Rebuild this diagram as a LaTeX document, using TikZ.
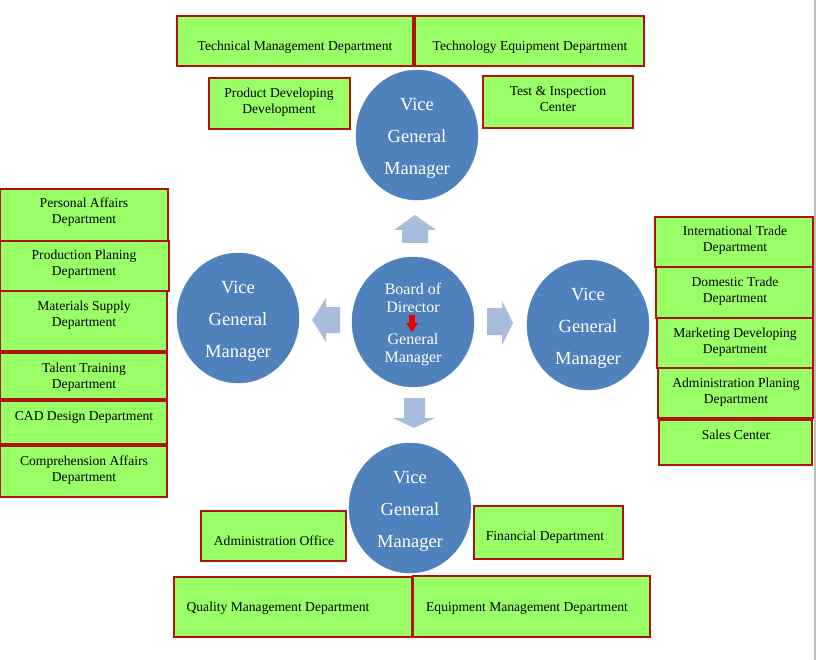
\documentclass[tikz,border=0pt]{standalone}
\usepackage{fontspec}
\setmainfont{Liberation Serif}
\usetikzlibrary{shapes.geometric}
\definecolor{deptgreen}{RGB}{153,255,102}
\definecolor{deptred}{RGB}{175,20,10}
\definecolor{vgmblue}{RGB}{79,129,189}
\definecolor{blockblue}{RGB}{168,188,220}
\definecolor{edgegray}{RGB}{190,190,190}
\tikzset{
  dept/.style={draw=deptred, line width=1.25pt, fill=deptgreen, inner sep=0pt},
  depttext/.style={align=center, inner sep=0pt, yshift=-2pt, font=\fontsize{13.6}{16}\selectfont, text=black},
  vgm/.style={ellipse, fill=vgmblue, draw=vgmblue, inner sep=0pt, minimum width=122pt, minimum height=130pt},
  vgmtext/.style={align=center, inner sep=0pt, yshift=-3pt, text=white, font=\fontsize{18.5}{32}\selectfont},
  boardtext/.style={align=center, inner sep=0pt, yshift=-3pt, text=white, font=\fontsize{16}{18}\selectfont},
  blockarrow/.style={fill=blockblue},
  redarrow/.style={fill=red!90!black}
}
\newcommand{\deptbox}[5]{% name, x1, y1, x2, y2
  \node[dept, minimum width={(#4-#2)*1pt}, minimum height={(#5-#3)*1pt}] (#1) at ({(#2+#4)/2},{(#3+#5)/2}) {};
}
\begin{document}
\begin{tikzpicture}[x=1pt, y=-1pt]
\useasboundingbox (0,0) rectangle (816,660);
\fill[white] (0,0) rectangle (816,660);
\draw[edgegray, line width=1.5pt] (815,0) -- (815,660);

% ---- circles ----
\node[vgm] (vtop) at (417,135) {};
\node[vgm] (vleft) at (238,318) {};
\node[vgm] (vright) at (588,325) {};
\node[vgm] (vbot) at (410,508) {};
\node[vgm] (board) at (413,322) {};
\node[vgmtext] (vtopt) at (vtop.center) {Vice\\General\\Manager};
\node[vgmtext] (vleftt) at (vleft.center) {Vice\\General\\Manager};
\node[vgmtext] (vrightt) at (vright.center) {Vice\\General\\Manager};
\node[vgmtext] (vbott) at (vbot.center) {Vice\\General\\Manager};
\node[boardtext] (boardt) at (board.center) {Board of\\Director\\[14pt]General\\Manager};
\fill[redarrow] (409,315) -- (415,315) -- (415,323) -- (418,323) -- (412,332) -- (406,323) -- (409,323) -- cycle;

% ---- block arrows ----
\fill[blockarrow] (415,215) -- (436,230) -- (428,230) -- (428,243) -- (402,243) -- (402,230) -- (394,230) -- cycle;
\fill[blockarrow] (312,320) -- (326,298) -- (326,307) -- (340,307) -- (340,333) -- (326,333) -- (326,342) -- cycle;
\fill[blockarrow] (513,323) -- (502,301) -- (502,308) -- (487,308) -- (487,335) -- (502,335) -- (502,345) -- cycle;
\fill[blockarrow] (414,428) -- (435,418) -- (425,418) -- (425,398) -- (404,398) -- (404,418) -- (393,418) -- cycle;

% ---- top boxes ----
\deptbox{tmd}{177}{16}{413}{66}
\deptbox{ted}{415}{16}{644}{66}
\deptbox{pdd}{209}{78}{350}{129}
\deptbox{tic}{483}{76}{633}{128}
\node[depttext] (tmdt) at (295,45) {Technical Management Department};
\node[depttext] (tedt) at (530,45) {Technology Equipment Department};
\node[depttext] (pddt) at (279,100) {Product Developing\\Development};
\node[depttext] (tict) at (558,97) {Test \& Inspection\\Center};

% ---- left boxes ----
\deptbox{pa}{0}{189}{168}{241}
\deptbox{pp}{0}{241}{169}{291}
\deptbox{ms}{0}{291}{167}{351}
\deptbox{tt}{0}{353}{167}{399}
\deptbox{cad}{0}{401}{167}{444}
\deptbox{ca}{0}{446}{167}{497}
\node[depttext] (pat) at (84,210) {Personal Affairs\\Department};
\node[depttext] (ppt) at (84,262) {Production Planing\\Department};
\node[depttext] (mst) at (84,313) {Materials Supply\\Department};
\node[depttext] (ttt) at (84,375) {Talent Training\\Department};
\node[depttext] (cadt) at (84,415) {CAD Design Department};
\node[depttext] (cat) at (84,468) {Comprehension Affairs\\Department};

% ---- right boxes ----
\deptbox{it}{655}{217}{813}{267}
\deptbox{dt}{656}{267}{813}{318}
\deptbox{md}{657}{318}{813}{368}
\deptbox{ap}{658}{368}{813}{418}
\deptbox{sc}{659}{420}{812}{465}
\node[depttext] (itt) at (735,238) {International Trade\\Department};
\node[depttext] (dtt) at (735,289) {Domestic Trade\\Department};
\node[depttext] (mdt) at (735,340) {Marketing Developing\\Department};
\node[depttext] (apt) at (736,390) {Administration Planing\\Department};
\node[depttext] (sct) at (736,433) {Sales Center};

% ---- bottom boxes ----
\deptbox{ao}{201}{511}{346}{561}
\deptbox{fd}{474}{506}{623}{559}
\deptbox{qm}{174}{577}{412}{637}
\deptbox{em}{413}{576}{650}{637}
\node[depttext] (aot) at (274,539) {Administration Office};
\node[depttext] (fdt) at (545,535) {Financial Department};
\node[depttext] (qmt) at (278,606) {Quality Management Department};
\node[depttext] (emt) at (527,606) {Equipment Management Department};
\end{tikzpicture}
\end{document}
